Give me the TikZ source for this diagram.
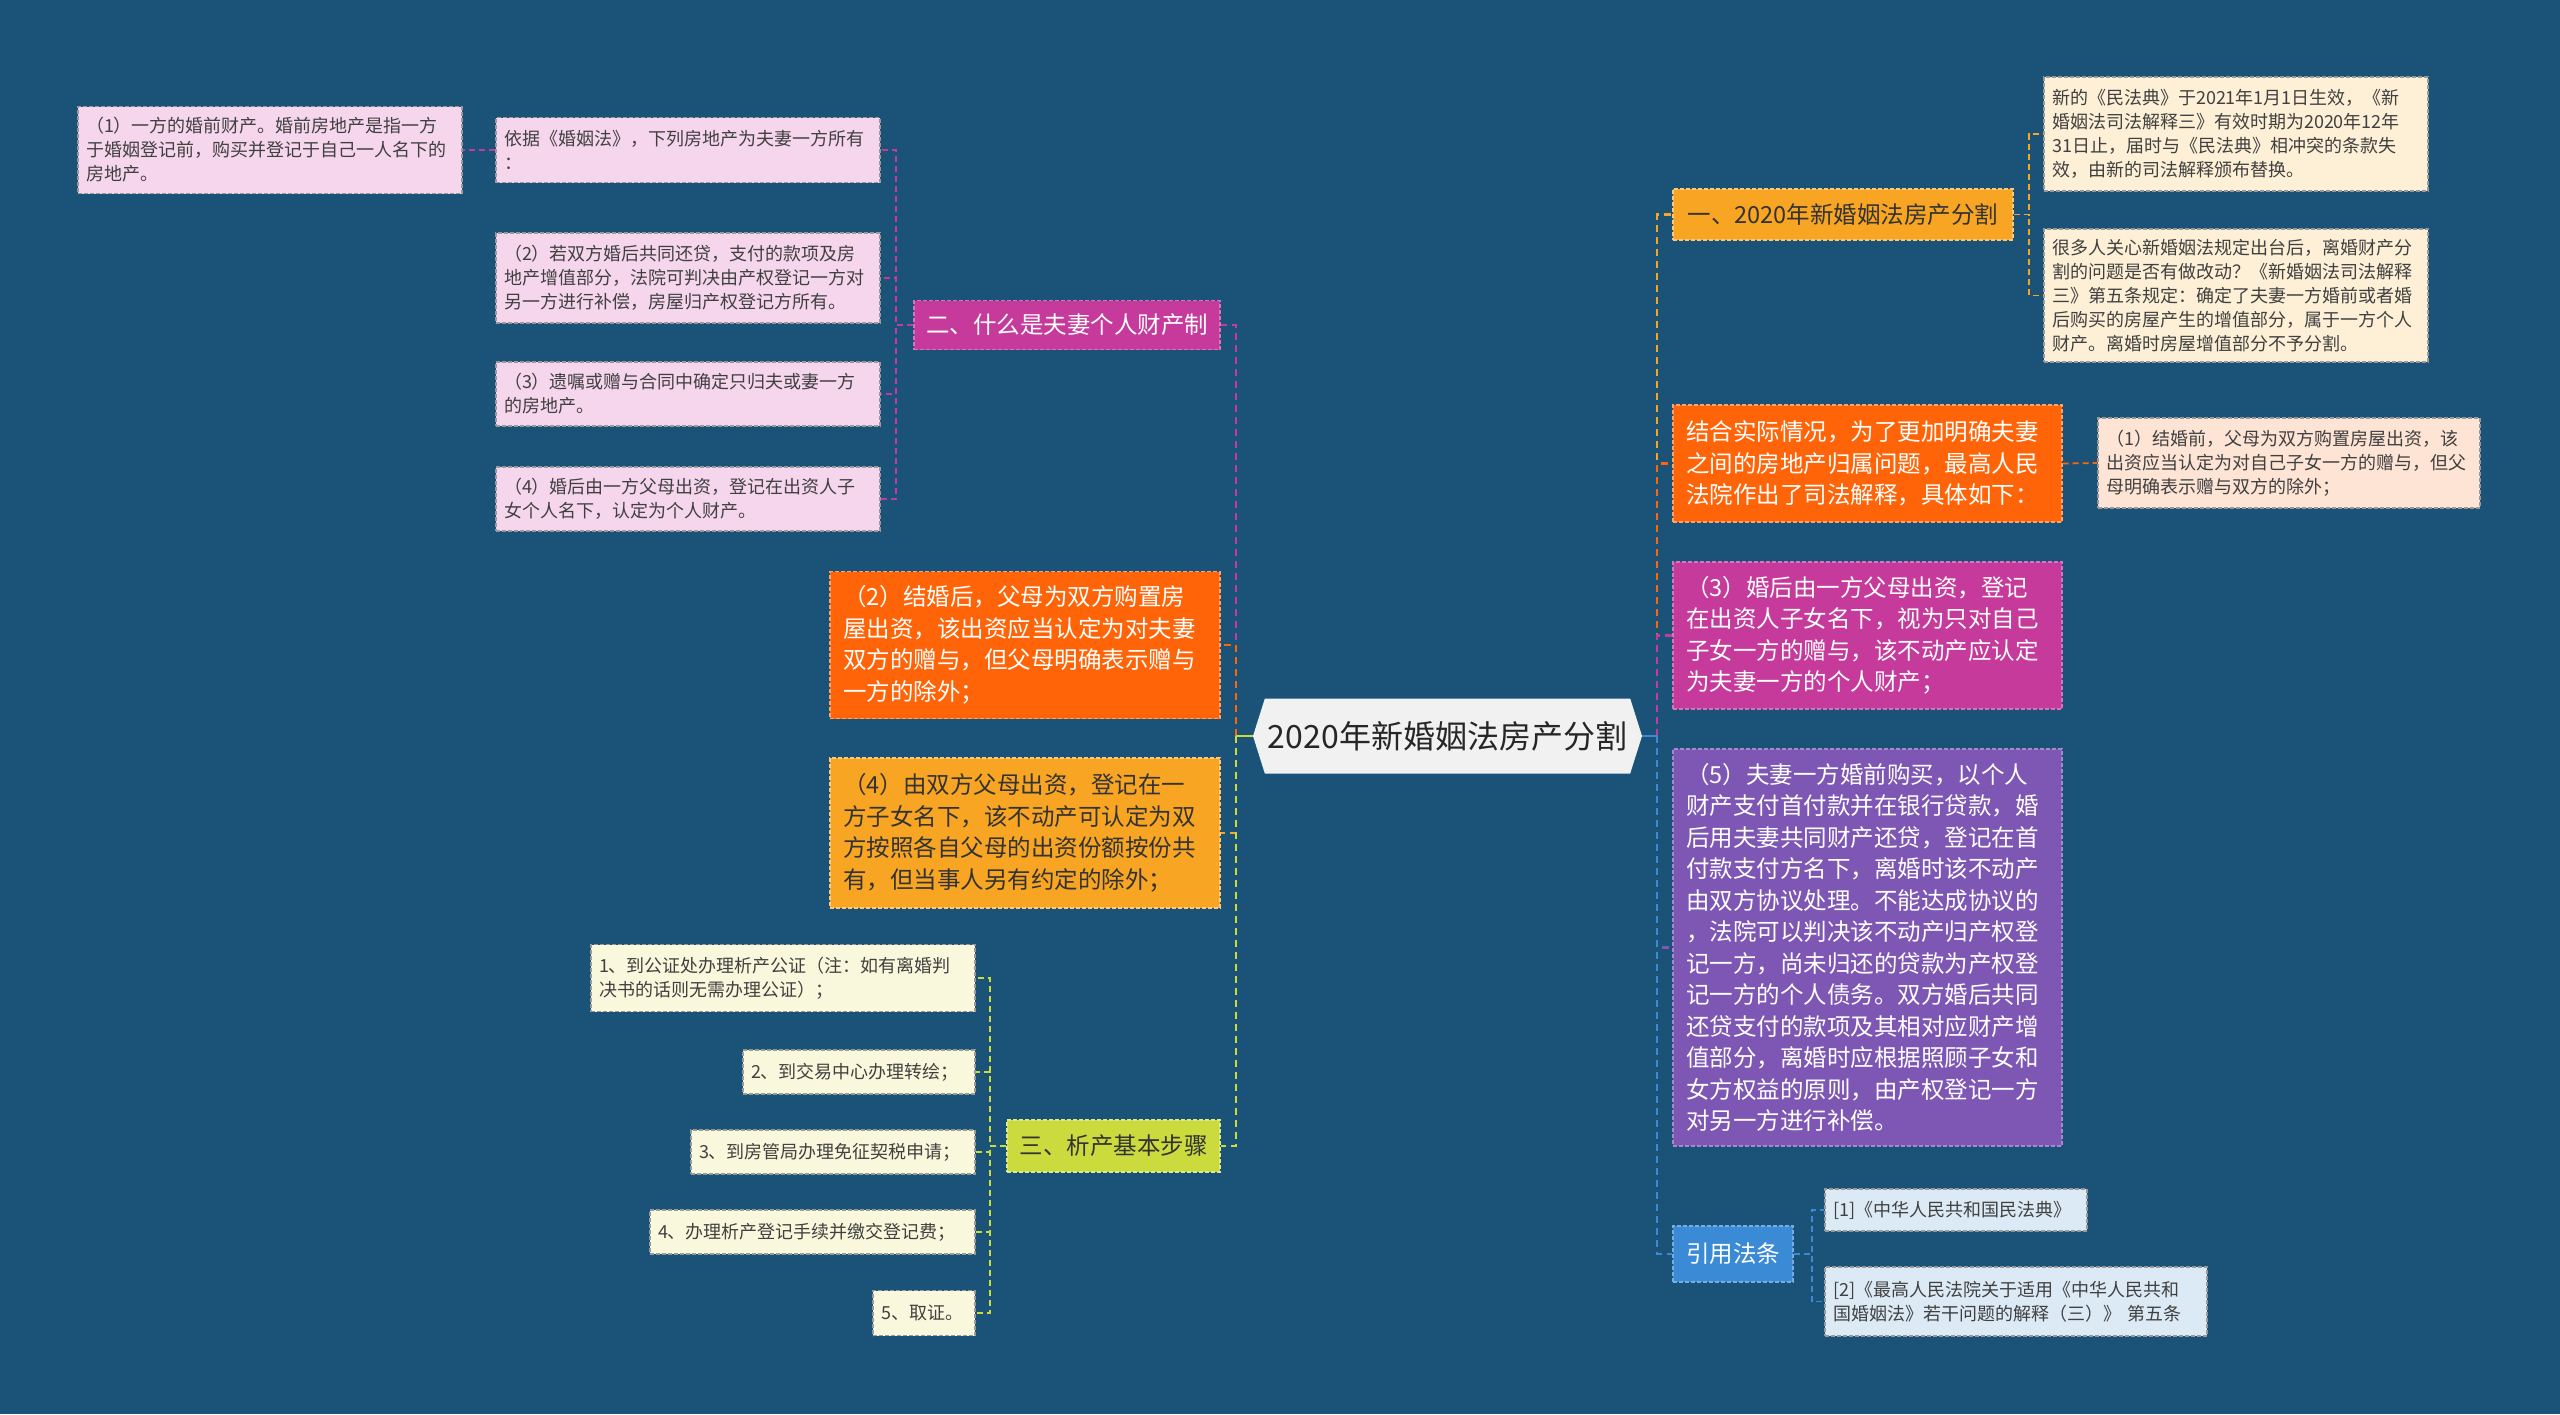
\documentclass[tikz,border=0pt]{standalone}
\usepackage{fontspec}
\setmainfont{Noto Sans CJK SC}
\usepackage{xcolor}
\usetikzlibrary{positioning,shapes.symbols}
\definecolor{BgBlue}{HTML}{1B5378}
\definecolor{CenterGray}{HTML}{F1F1F1}
\definecolor{MagentaC}{HTML}{C63A9C}
\definecolor{OrangeC}{HTML}{FF6508}
\definecolor{AmberC}{HTML}{F7A523}
\definecolor{LimeC}{HTML}{CBDB3E}
\definecolor{PurpleC}{HTML}{7E57B4}
\definecolor{BlueC}{HTML}{3A8AD6}
\definecolor{PinkL}{HTML}{F6D6EC}
\definecolor{CreamL}{HTML}{FDF0D6}
\definecolor{PeachL}{HTML}{FDE4D5}
\definecolor{LimeL}{HTML}{FAF8DC}
\definecolor{BlueL}{HTML}{DCEAF6}

\begin{document}
\begin{tikzpicture}[x=1pt,y=-1pt,
    conn/.style={line width=2.2pt, dash pattern=on 7pt off 5pt},
    subconn/.style={line width=1.8pt, dash pattern=on 6pt off 4pt},
    subbox/.style={draw=black!40, dash pattern=on 4pt off 2pt, line width=1.1pt,
      align=left, inner xsep=8pt, inner ysep=3pt, text=black!75,
      font=\fontsize{18}{24}\selectfont},
    bigbox/.style={dash pattern=on 4pt off 2pt, line width=1.1pt,
      align=left, inner xsep=13pt, inner ysep=3pt,
      font=\fontsize{23.5}{31.5}\selectfont},
    mainbox/.style={dash pattern=on 4pt off 2pt, line width=1.1pt,
      inner sep=3pt, font=\fontsize{23.5}{28}\selectfont}]

  \fill[BgBlue] (0,0) rectangle (2560,1414);
  \useasboundingbox (0,0) rectangle (2560,1414);

  % centre
  \node[signal, signal to=west and east, signal pointer angle=145,
        fill=CenterGray, minimum width=389pt, minimum height=75pt, inner sep=0pt,
        text=black!85, font=\fontsize{32}{36}\selectfont] (zx) at (1447.5,736)
        {2020年新婚姻法房产分割};

  % left side
  \node[mainbox, fill=MagentaC, draw=MagentaC!70!white, text=white,
        minimum width=306pt, minimum height=49pt] (er) at (1067,325)
        {二、什么是夫妻个人财产制};
  \node[bigbox, fill=OrangeC, draw=OrangeC!60!white, text=white,
        text width=364pt, minimum height=147pt] (jiehou) at (1025,645)
        {（2）结婚后，父母为双方购置房\\屋出资，该出资应当认定为对夫妻\\双方的赠与，但父母明确表示赠与\\一方的除外；};
  \node[bigbox, fill=AmberC, draw=AmberC!60!white, text=black!80,
        text width=364pt, minimum height=150pt] (shuangfang) at (1025,833)
        {（4）由双方父母出资，登记在一\\方子女名下，该不动产可认定为双\\方按照各自父母的出资份额按份共\\有，但当事人另有约定的除外；};
  \node[mainbox, fill=LimeC, draw=LimeC!60!white, text=black!80,
        minimum width=213pt, minimum height=52pt] (san) at (1113.5,1146)
        {三、析产基本步骤};

  \node[subbox, fill=PinkL, text width=368pt, minimum height=65pt] (yiju) at (688,150)
        {依据《婚姻法》，下列房地产为夫妻一方所有\\：};
  \node[subbox, fill=PinkL, text width=368pt, minimum height=87pt] (hunqian) at (270,150)
        {（1）一方的婚前财产。婚前房地产是指一方\\于婚姻登记前，购买并登记于自己一人名下的\\房地产。};
  \node[subbox, fill=PinkL, text width=368pt, minimum height=90pt] (huandai) at (688,278)
        {（2）若双方婚后共同还贷，支付的款项及房\\地产增值部分，法院可判决由产权登记一方对\\另一方进行补偿，房屋归产权登记方所有。};
  \node[subbox, fill=PinkL, text width=368pt, minimum height=64pt] (yizhu) at (688,394)
        {（3）遗嘱或赠与合同中确定只归夫或妻一方\\的房地产。};
  \node[subbox, fill=PinkL, text width=368pt, minimum height=64pt] (yifang) at (688,499)
        {（4）婚后由一方父母出资，登记在出资人子\\女个人名下，认定为个人财产。};

  \node[subbox, fill=LimeL, text width=368pt, minimum height=67pt] (buzhou1) at (783,978)
        {1、到公证处办理析产公证（注：如有离婚判\\决书的话则无需办理公证）；};
  \node[subbox, fill=LimeL, text width=216pt, minimum height=44pt] (buzhou2) at (859,1072)
        {2、到交易中心办理转绘；};
  \node[subbox, fill=LimeL, text width=268pt, minimum height=44pt] (buzhou3) at (833,1152)
        {3、到房管局办理免征契税申请；};
  \node[subbox, fill=LimeL, text width=309pt, minimum height=44pt] (buzhou4) at (812.5,1232)
        {4、办理析产登记手续并缴交登记费；};
  \node[subbox, fill=LimeL, text width=86pt, minimum height=45pt] (buzhou5) at (924,1313)
        {5、取证。};

  % right side
  \node[mainbox, fill=AmberC, draw=AmberC!60!white, text=black!80,
        minimum width=340pt, minimum height=51pt] (yi) at (1843,214.5)
        {一、2020年新婚姻法房产分割};
  \node[bigbox, fill=OrangeC, draw=OrangeC!60!white, text=white,
        text width=363pt, minimum height=117pt] (jiehe) at (1867.5,463.5)
        {结合实际情况，为了更加明确夫妻\\之间的房地产归属问题，最高人民\\法院作出了司法解释，具体如下：};
  \node[bigbox, fill=MagentaC, draw=MagentaC!70!white, text=white,
        text width=363pt, minimum height=147pt] (hunhou) at (1867.5,635.5)
        {（3）婚后由一方父母出资，登记\\在出资人子女名下，视为只对自己\\子女一方的赠与，该不动产应认定\\为夫妻一方的个人财产；};
  \node[bigbox, fill=PurpleC, draw=PurpleC!70!white, text=white,
        text width=363pt, minimum height=397pt] (hunqiangoumai) at (1867.5,947.5)
        {（5）夫妻一方婚前购买，以个人\\财产支付首付款并在银行贷款，婚\\后用夫妻共同财产还贷，登记在首\\付款支付方名下，离婚时该不动产\\由双方协议处理。不能达成协议的\\，法院可以判决该不动产归产权登\\记一方，尚未归还的贷款为产权登\\记一方的个人债务。双方婚后共同\\还贷支付的款项及其相对应财产增\\值部分，离婚时应根据照顾子女和\\女方权益的原则，由产权登记一方\\对另一方进行补偿。};
  \node[mainbox, fill=BlueC, draw=BlueC!70!white, text=white,
        minimum width=120pt, minimum height=56pt] (yinyong) at (1733,1254)
        {引用法条};

  \node[subbox, fill=CreamL, text width=368pt, minimum height=114pt] (minfadian) at (2236,134)
        {新的《民法典》于2021年1月1日生效，《新\\婚姻法司法解释三》有效时期为2020年12年\\31日止，届时与《民法典》相冲突的条款失\\效，由新的司法解释颁布替换。};
  \node[subbox, fill=CreamL, text width=368pt, minimum height=133pt] (guanxin) at (2236,295.5)
        {很多人关心新婚姻法规定出台后，离婚财产分\\割的问题是否有做改动？《新婚姻法司法解释\\三》第五条规定：确定了夫妻一方婚前或者婚\\后购买的房屋产生的增值部分，属于一方个人\\财产。离婚时房屋增值部分不予分割。};
  \node[subbox, fill=PeachL, text width=366pt, minimum height=90pt] (jiehunqian) at (2289,463)
        {（1）结婚前，父母为双方购置房屋出资，该\\出资应当认定为对自己子女一方的赠与，但父\\母明确表示赠与双方的除外；};
  \node[subbox, fill=BlueL, text width=246pt, minimum height=42pt] (fa1) at (1956,1210)
        {[1]《中华人民共和国民法典》};
  \node[subbox, fill=BlueL, text width=366pt, minimum height=69pt] (fa2) at (2016,1301.5)
        {[2]《最高人民法院关于适用《中华人民共和\\国婚姻法》若干问题的解释（三）》 第五条};

  % connectors
  \coordinate (lj) at (1236,736);
  \coordinate (rj) at (1657,736);
  \draw[conn, MagentaC] (lj) |- (er.east);
  \draw[conn, OrangeC] (lj) |- (jiehou.east);
  \draw[conn, AmberC] (lj) |- (shuangfang.east);
  \draw[conn, LimeC] (lj) |- (san.east);
  \draw[LimeC, line width=2.2pt] (zx.west) -- (lj);

  \draw[conn, AmberC] (rj) |- (yi.west);
  \draw[conn, OrangeC] (rj) |- (jiehe.west);
  \draw[conn, MagentaC] (rj) |- (hunhou.west);
  \draw[conn, PurpleC] (rj) |- (hunqiangoumai.west);
  \draw[conn, BlueC] (rj) |- (yinyong.west);
  \draw[BlueC, line width=2.2pt] (zx.east) -- (rj);

  \coordinate (erj) at (896,325);
  \foreach \n in {yiju,huandai,yizhu,yifang}
    \draw[subconn, MagentaC] (er.west) -- (erj) |- (\n.east);
  \draw[subconn, MagentaC] (yiju.west) -- (hunqian.east);

  \coordinate (sanj) at (990,1146);
  \foreach \n in {buzhou1,buzhou2,buzhou3,buzhou4,buzhou5}
    \draw[subconn, LimeC] (san.west) -- (sanj) |- (\n.east);

  \coordinate (yij) at (2029,214.5);
  \foreach \n in {minfadian,guanxin}
    \draw[subconn, AmberC] (yi.east) -- (yij) |- (\n.west);
  \draw[subconn, OrangeC] (jiehe.east) -- (jiehunqian.west);

  \coordinate (yyj) at (1812,1254);
  \foreach \n in {fa1,fa2}
    \draw[subconn, BlueC] (yinyong.east) -- (yyj) |- (\n.west);
\end{tikzpicture}
\end{document}
